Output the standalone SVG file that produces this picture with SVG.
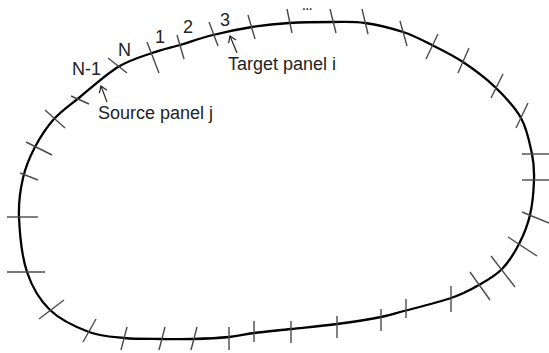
<svg xmlns="http://www.w3.org/2000/svg" width="549" height="353" viewBox="0 0 549 353">
<defs>
<style>
.body{fill:none;stroke:#000;stroke-width:2.3;stroke-linejoin:round}
.tick{stroke:#4a4a4a;stroke-width:1.4;fill:none}
.lbl{font-family:"Liberation Sans",Arial,sans-serif;font-size:18px;fill:#222}
.arr{stroke:#222;stroke-width:1.2;fill:none}
</style>
<marker id="ah" markerUnits="userSpaceOnUse" markerWidth="12" markerHeight="12" refX="7" refY="6" orient="auto">
<path d="M1,2 L7,6 L1,10" fill="none" stroke="#222" stroke-width="1.2"/>
</marker>
</defs>
<rect width="549" height="353" fill="#fff"/>
<g id="contour">
<path class="body" d="M118,67 C130,59.67 141.67,56.67 152,53 C162.33,49.33 169.83,48 180,45 C190.17,42 201,38 213,35 C225,32 239.33,29 252,27 C264.67,25 275.5,23.83 289,23 C302.5,22.17 320.33,22 333,22 C345.67,22 353.33,21.33 365,23 C376.67,24.67 391.83,28.33 403,32 C414.17,35.67 422,40 432,45 C442,50 452.5,55 463,62 C473.5,69 485.33,77.67 495,87 C504.67,96.33 514.83,106.83 521,118 C527.17,129.17 529.83,143.67 532,154 C534.17,164.33 534.33,169.83 534,180 C533.67,190.17 532.5,204.33 530,215 C527.5,225.67 523.67,235 519,244 C514.33,253 508.67,262.17 502,269 C495.33,275.83 487.5,280.17 479,285 C470.5,289.83 463.17,294 451,298 C438.83,302 418.5,307.2 406,310.5 C394.3,313.5 391.5,315 381,317 C369.5,319.3 352,322 337,324 C322,326 304.83,327.5 291,329 C277.17,330.5 264.33,331.67 254,333 C243.67,334.33 239.17,336 229,337 C218.83,338 204.17,338.67 193,339 C181.83,339.33 173.5,339.17 162,339 C150.5,338.83 136.17,339.17 124,338 C111.83,336.83 101.33,336.67 89,332 C76.67,327.33 60.33,320 50,310 C39.67,300 32.17,287.5 27,272 C21.83,256.5 19.67,232.67 19,217 C18.33,201.33 20.33,189.67 23,178 C25.67,166.33 29.83,156.83 35,147 C40.17,137.17 46.5,127.33 54,119 C61.5,110.67 69.33,105.67 80,97 C90.67,88.33 106,74.33 118,67 Z"/>
</g>
<g id="panels">
<line class="tick" x1="108" y1="58" x2="127" y2="73"/>
<line class="tick" x1="147" y1="42" x2="159" y2="73"/>
<line class="tick" x1="177" y1="35" x2="184" y2="59"/>
<line class="tick" x1="209" y1="22" x2="218" y2="46"/>
<line class="tick" x1="248" y1="15" x2="255" y2="39"/>
<line class="tick" x1="287" y1="9" x2="292" y2="33"/>
<line class="tick" x1="330" y1="9" x2="336" y2="33"/>
<line class="tick" x1="362" y1="9" x2="368" y2="34"/>
<line class="tick" x1="400" y1="21" x2="407" y2="46"/>
<line class="tick" x1="426" y1="59" x2="438" y2="34"/>
<line class="tick" x1="458" y1="73" x2="469" y2="48"/>
<line class="tick" x1="491" y1="98" x2="503" y2="74"/>
<line class="tick" x1="516" y1="128" x2="528" y2="103"/>
<line class="tick" x1="522" y1="154" x2="549" y2="154"/>
<line class="tick" x1="522" y1="180" x2="549" y2="180"/>
<line class="tick" x1="522" y1="212" x2="549" y2="223"/>
<line class="tick" x1="508" y1="237" x2="537" y2="256"/>
<line class="tick" x1="491" y1="256" x2="515" y2="287"/>
<line class="tick" x1="470" y1="272" x2="490" y2="300"/>
<line class="tick" x1="451" y1="286" x2="451" y2="312"/>
<line class="tick" x1="406" y1="299" x2="406" y2="318"/>
<line class="tick" x1="381" y1="309" x2="381" y2="331"/>
<line class="tick" x1="337" y1="316" x2="337" y2="338"/>
<line class="tick" x1="291" y1="321" x2="291" y2="343"/>
<line class="tick" x1="254" y1="321" x2="254" y2="342"/>
<line class="tick" x1="229" y1="327" x2="229" y2="350"/>
<line class="tick" x1="191" y1="350" x2="197" y2="327"/>
<line class="tick" x1="159" y1="350" x2="165" y2="327"/>
<line class="tick" x1="121" y1="350" x2="127" y2="327"/>
<line class="tick" x1="83" y1="342" x2="96" y2="319"/>
<line class="tick" x1="39" y1="319" x2="64" y2="300"/>
<line class="tick" x1="7" y1="272" x2="45" y2="272"/>
<line class="tick" x1="7" y1="217" x2="38" y2="217"/>
<line class="tick" x1="20" y1="173" x2="38" y2="180"/>
<line class="tick" x1="26" y1="142" x2="52" y2="155"/>
<line class="tick" x1="45" y1="110" x2="65" y2="128"/>
<line class="tick" x1="71" y1="96" x2="89" y2="104"/>
</g>
<g id="labels">
<text class="lbl" x="72" y="75">N-1</text>
<text class="lbl" x="118" y="56">N</text>
<text class="lbl" x="155" y="43">1</text>
<text class="lbl" x="183" y="33">2</text>
<text class="lbl" x="220" y="26">3</text>
<text class="lbl" x="302" y="9.5" style="font-size:10.5px;font-weight:bold">…</text>
<text class="lbl" x="98" y="119">Source panel j</text>
<text class="lbl" x="228" y="70">Target panel i</text>
</g>
<g id="connectors">
<line class="arr" x1="107" y1="102" x2="101" y2="86" marker-end="url(#ah)"/>
<line class="arr" x1="237" y1="53" x2="230" y2="36" marker-end="url(#ah)"/>
</g>
</svg>
